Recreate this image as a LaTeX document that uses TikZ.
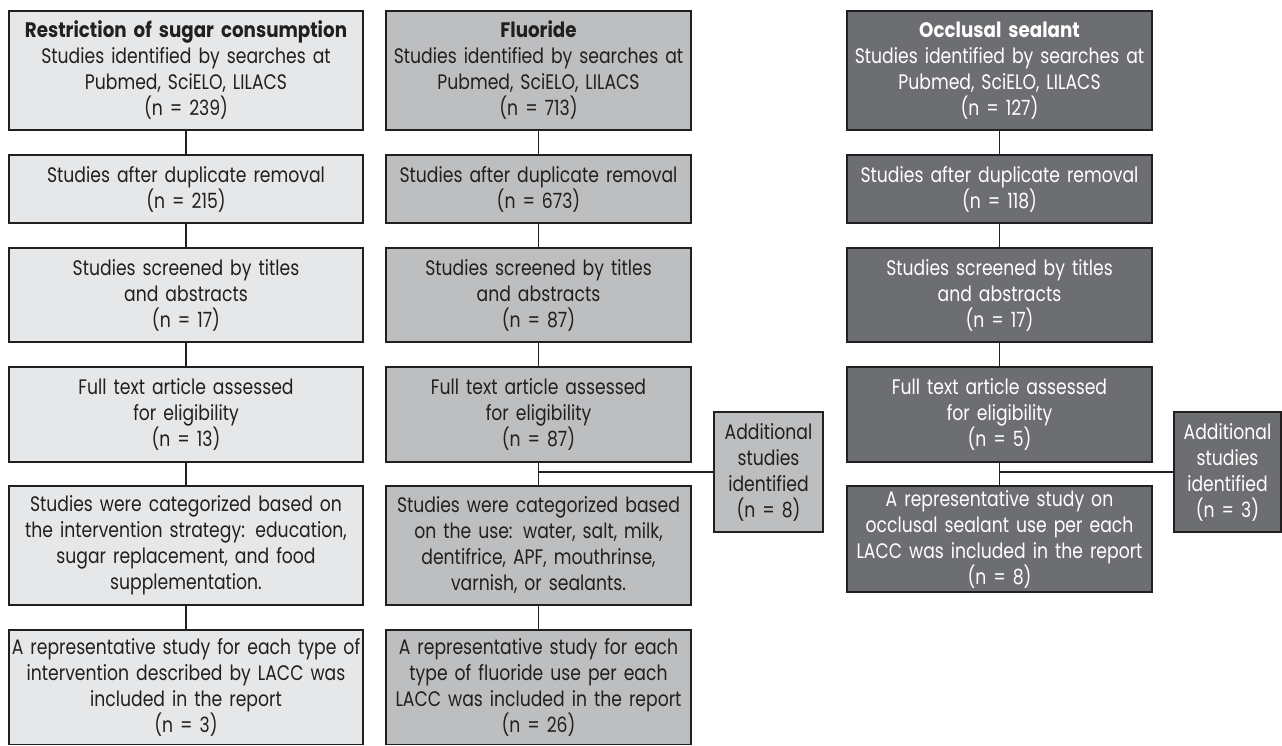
\documentclass[tikz,border=0pt]{standalone}
\usepackage{fontspec}
\setmainfont{Poppins}[FakeStretch=0.82, BoldFeatures={FakeStretch=0.87}]
\usetikzlibrary{positioning}
\definecolor{bordc}{HTML}{231F20}
\definecolor{fillA}{HTML}{E6E7E8}
\definecolor{fillB}{HTML}{BCBEC0}
\definecolor{fillC}{HTML}{6D6E71}
\tikzset{
  box/.style={draw=bordc, line width=1.2pt, rectangle, inner sep=0pt, align=center,
    font=\fontsize{21}{26}\selectfont, text=bordc},
  boxA/.style={box, fill=fillA},
  boxB/.style={box, fill=fillB},
  boxC/.style={box, fill=fillC, text=white},
  link/.style={draw=bordc, line width=1.2pt},
}
% place node by its left/right/top/bottom in px (pt)
\newcommand{\pbox}[7]{% style, name, x1, x2, y1, y2, text
  \node[#1, minimum width={#4pt-#3pt}, minimum height={#6pt-#5pt}, text width={#4pt-#3pt-4pt}]
    (#2) at ({(#3pt+#4pt)/2}, {-(#5pt+#6pt)/2}) {#7};}
\begin{document}
\begin{tikzpicture}[x=1pt,y=1pt]
\useasboundingbox (0,0) rectangle (1282,-746);
% column 1
\pbox{boxA}{a1}{9}{363}{11}{130}{{\bfseries Restriction of sugar consumption}\\Studies identified by searches at\\Pubmed, SciELO, LILACS\\(n = 239)}
\pbox{boxA}{a2}{9}{363}{155}{223}{Studies after duplicate removal\\(n = 215)}
\pbox{boxA}{a3}{9}{363}{248}{342}{Studies screened by titles\\and abstracts\\(n = 17)}
\pbox{boxA}{a4}{9}{363}{367}{462}{Full text article assessed\\for eligibility\\(n = 13)}
\pbox{boxA}{a5}{9}{363}{486}{605}{Studies were categorized based on\\the intervention strategy: education,\\sugar replacement, and food\\supplementation.}
\pbox{boxA}{a6}{9}{363}{630}{744.5}{A representative study for each type of\\intervention described by LACC was\\included in the report\\(n = 3)}
% column 2
\pbox{boxB}{b1}{386}{691}{11}{130}{{\bfseries Fluoride}\\Studies identified by searches at\\Pubmed, SciELO, LILACS\\(n = 713)}
\pbox{boxB}{b2}{386}{691}{155}{223}{Studies after duplicate removal\\(n = 673)}
\pbox{boxB}{b3}{386}{691}{248}{342}{Studies screened by titles\\and abstracts\\(n = 87)}
\pbox{boxB}{b4}{386}{691}{367}{462}{Full text article assessed\\for eligibility\\(n = 87)}
\pbox{boxB}{b5}{386}{691}{486}{605}{Studies were categorized based\\on the use: water, salt, milk,\\dentifrice, APF, mouthrinse,\\varnish, or sealants.}
\pbox{boxB}{b6}{386}{691}{630}{744.5}{A representative study for each\\type of fluoride use per each\\LACC was included in the report\\(n = 26)}
\pbox{boxB}{bx}{714}{823}{412}{532}{Additional\\studies\\identified\\(n = 8)}
% column 3
\pbox{boxC}{c1}{847}{1152}{11}{130}{{\bfseries Occlusal sealant}\\Studies identified by searches at\\Pubmed, SciELO, LILACS\\(n = 127)}
\pbox{boxC}{c2}{847}{1152}{155}{223}{Studies after duplicate removal\\(n = 118)}
\pbox{boxC}{c3}{847}{1152}{248}{342}{Studies screened by titles\\and abstracts\\(n = 17)}
\pbox{boxC}{c4}{847}{1152}{367}{462}{Full text article assessed\\for eligibility\\(n = 5)}
\pbox{boxC}{c5}{847}{1152}{486}{592}{A representative study on\\occlusal sealant use per each\\LACC was included in the report\\(n = 8)}
\pbox{boxC}{cx}{1174}{1281}{412}{532}{Additional\\studies\\identified\\(n = 3)}
% connectors
\foreach \p in {a,b,c}{
  \draw[link] (\p1.south) -- (\p2.north);
  \draw[link] (\p2.south) -- (\p3.north);
  \draw[link] (\p3.south) -- (\p4.north);
  \draw[link] (\p4.south) -- (\p5.north);
}
\draw[link] (a5.south) -- (a6.north);
\draw[link] (b5.south) -- (b6.north);
\draw[link] (bx.west) -- (b4.south |- bx.west);
\draw[link] (cx.west) -- (c4.south |- cx.west);
\end{tikzpicture}
\end{document}
